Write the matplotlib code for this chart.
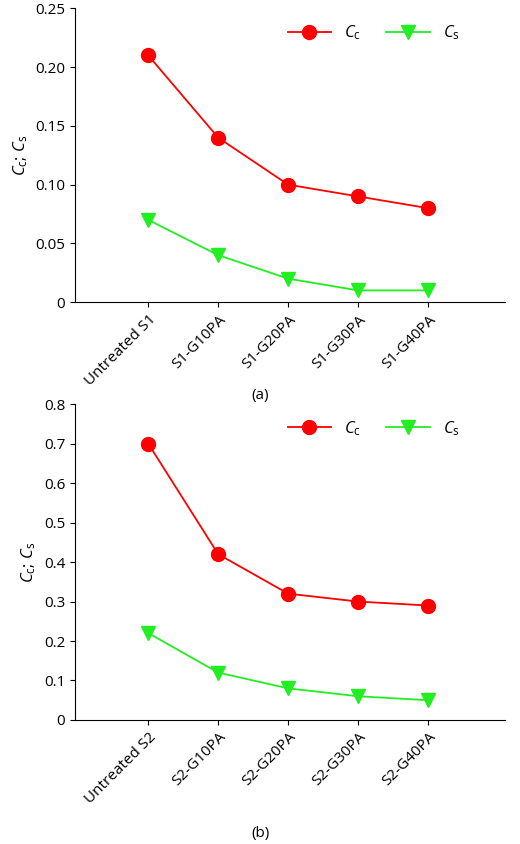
import matplotlib
matplotlib.use("Agg")
import matplotlib.pyplot as plt

plt.rcParams['font.family'] = ['Open Sans', 'DejaVu Sans']
plt.rcParams['mathtext.fontset'] = 'custom'
plt.rcParams['mathtext.it'] = 'Open Sans:italic'
plt.rcParams['mathtext.rm'] = 'Open Sans'

labels_a = ['Untreated S1', 'S1-G10PA', 'S1-G20PA', 'S1-G30PA', 'S1-G40PA']
cc_a = [0.21, 0.14, 0.10, 0.09, 0.08]
cs_a = [0.07, 0.04, 0.02, 0.01, 0.01]
labels_b = ['Untreated S2', 'S2-G10PA', 'S2-G20PA', 'S2-G30PA', 'S2-G40PA']
cc_b = [0.70, 0.42, 0.32, 0.30, 0.29]
cs_b = [0.22, 0.12, 0.08, 0.06, 0.05]

fig = plt.figure(figsize=(5.2, 8.44), dpi=100)
ax_a = fig.add_axes([0.144, 0.642, 0.827, 0.348])
ax_b = fig.add_axes([0.144, 0.147, 0.827, 0.374])

def panel(ax, labels, cc, cs, ymax, step, tag, tagy):
    x = range(len(labels))
    ax.plot(x, cc, color='red', marker='o', markersize=10, lw=1.3, label=r'$C_\mathrm{c}$')
    ax.plot(x, cs, color='#22ee22', marker='v', markersize=10, lw=1.3, label=r'$C_\mathrm{s}$')
    ax.set_xlim(-1.05, 5.1)
    ax.set_ylim(0, ymax)
    ticks = [round(i * step, 2) for i in range(int(round(ymax / step)) + 1)]
    ax.set_yticks(ticks)
    ax.set_yticklabels(['0' if t == 0 else f'{t:g}' if step >= 0.1 else f'{t:.2f}' for t in ticks])
    ax.set_xticks(list(x))
    ax.set_xticklabels(labels, rotation=45, ha='right', rotation_mode='anchor')
    ax.spines['top'].set_visible(False)
    ax.spines['right'].set_visible(False)
    ax.tick_params(labelsize=11)
    ax.set_ylabel(r'$C_\mathrm{c}$; $C_\mathrm{s}$', fontsize=12)
    ax.legend(loc='upper right', ncol=2, frameon=False, fontsize=12,
              handlelength=2.6, columnspacing=1.5, bbox_to_anchor=(0.93, 1.0))
    fig.text(0.5, tagy, tag, ha='center', fontsize=11)

panel(ax_a, labels_a, cc_a, cs_a, 0.25, 0.05, '(a)', 0.527)
panel(ax_b, labels_b, cc_b, cs_b, 0.8, 0.1, '(b)', 0.008)

fig.savefig('out.png')
